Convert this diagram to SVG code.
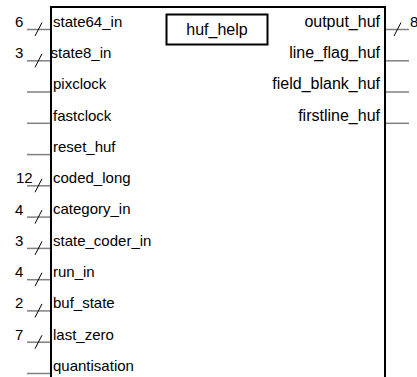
<svg xmlns="http://www.w3.org/2000/svg" width="417" height="377" viewBox="0 0 417 377">
<style>
text{font-family:"Liberation Sans",Arial,sans-serif;font-size:15px;fill:#000}
.pin{stroke:#808080;stroke-width:1.5}
.slash{stroke:#000;stroke-width:1}
.r{text-anchor:end;font-size:16px}
.t{font-size:16px;text-anchor:middle}
</style>
<rect x="0" y="0" width="417" height="377" fill="#fff"/>
<g id="huf_help_block">
<rect x="51" y="7" width="334" height="380" fill="none" stroke="#000" stroke-width="2"/>
<rect id="title" x="166.5" y="14.5" width="101" height="30" fill="none" stroke="#000" stroke-width="2"/>
<text class="t" x="217" y="35">huf_help</text>
</g>
<g id="connectors">
<line class="pin" x1="27" y1="29.5" x2="50" y2="29.5"/>
<line class="pin" x1="27" y1="60.8" x2="50" y2="60.8"/>
<line class="pin" x1="27" y1="92" x2="50" y2="92"/>
<line class="pin" x1="27" y1="123.3" x2="50" y2="123.3"/>
<line class="pin" x1="27" y1="154.6" x2="50" y2="154.6"/>
<line class="pin" x1="27" y1="185.8" x2="50" y2="185.8"/>
<line class="pin" x1="27" y1="217.1" x2="50" y2="217.1"/>
<line class="pin" x1="27" y1="248.4" x2="50" y2="248.4"/>
<line class="pin" x1="27" y1="279.7" x2="50" y2="279.7"/>
<line class="pin" x1="27" y1="310.9" x2="50" y2="310.9"/>
<line class="pin" x1="27" y1="342.2" x2="50" y2="342.2"/>
<line class="pin" x1="27" y1="373.5" x2="50" y2="373.5"/>
<line class="pin" x1="386" y1="29.5" x2="409" y2="29.5"/>
<line class="pin" x1="386" y1="60.8" x2="409" y2="60.8"/>
<line class="pin" x1="386" y1="92" x2="409" y2="92"/>
<line class="pin" x1="386" y1="123.3" x2="409" y2="123.3"/>
<line class="slash" x1="35" y1="36" x2="42" y2="22.5"/>
<line class="slash" x1="35" y1="67.3" x2="42" y2="53.8"/>
<line class="slash" x1="35" y1="192.3" x2="42" y2="178.8"/>
<line class="slash" x1="35" y1="223.6" x2="42" y2="210.1"/>
<line class="slash" x1="35" y1="254.9" x2="42" y2="241.4"/>
<line class="slash" x1="35" y1="286.2" x2="42" y2="272.7"/>
<line class="slash" x1="35" y1="317.4" x2="42" y2="303.9"/>
<line class="slash" x1="35" y1="348.7" x2="42" y2="335.2"/>
<line class="slash" x1="394" y1="36" x2="401" y2="22.5"/>
</g>
<g id="bus_widths">
<text x="15" y="27">6</text>
<text x="15" y="58.3">3</text>
<text x="16" y="183.3">12</text>
<text x="15" y="214.6">4</text>
<text x="15" y="245.9">3</text>
<text x="15" y="277.2">4</text>
<text x="15" y="308.4">2</text>
<text x="15" y="339.7">7</text>
<text x="410" y="27">8</text>
</g>
<g id="port_labels">
<text x="53" y="26.8">state64_in</text>
<text x="50.5" y="58.1">state8_in</text>
<text x="53" y="89.3">pixclock</text>
<text x="53" y="120.6">fastclock</text>
<text x="53" y="151.9">reset_huf</text>
<text x="53" y="183.1">coded_long</text>
<text x="53" y="214.4">category_in</text>
<text x="53" y="245.7">state_coder_in</text>
<text x="53" y="277">run_in</text>
<text x="53" y="308.2">buf_state</text>
<text x="53" y="339.5">last_zero</text>
<text x="53" y="370.8">quantisation</text>
<text class="r" x="380" y="26.8">output_huf</text>
<text class="r" x="380" y="58.1">line_flag_huf</text>
<text class="r" x="380" y="89.3">field_blank_huf</text>
<text class="r" x="380" y="120.6">firstline_huf</text>
</g>
</svg>
